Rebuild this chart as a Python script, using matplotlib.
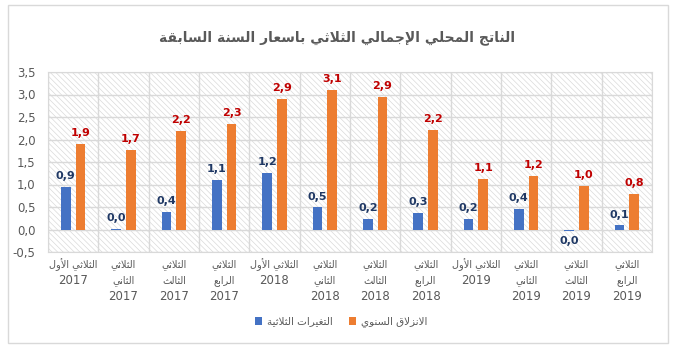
#!/usr/bin/env python3

import numpy as np
import matplotlib.pyplot as plt
from matplotlib.patches import Rectangle

# data
quarters = ['الثلاثي الأول', 'الثلاثي\nالثاني', 'الثلاثي\nالثالث', 'الثلاثي\nالرابع'] * 3
years = ['2017'] * 4 + ['2018'] * 4 + ['2019'] * 4
qoq = [0.94, 0.02, 0.40, 1.10, 1.26, 0.49, 0.23, 0.36, 0.23, 0.45, -0.03, 0.09]
yoy = [1.90, 1.76, 2.20, 2.35, 2.91, 3.10, 2.95, 2.21, 1.12, 1.20, 0.97, 0.80]
qoq_lbl = ['0,9', '0,0', '0,4', '1,1', '1,2', '0,5', '0,2', '0,3', '0,2', '0,4', '0,0', '0,1']
yoy_lbl = ['1,9', '1,7', '2,2', '2,3', '2,9', '3,1', '2,9', '2,2', '1,1', '1,2', '1,0', '0,8']
title = 'الناتج المحلي الإجمالي الثلاثي باسعار السنة السابقة'
names = ['التغيرات الثلاثية', 'الانزلاق السنوي']

# minimal arabic shaping (matplotlib has no bidi / joining support)
AR = {'ء': (0xFE80, 1), 'آ': (0xFE81, 2), 'أ': (0xFE83, 2), 'ؤ': (0xFE85, 2), 'إ': (0xFE87, 2),
      'ئ': (0xFE89, 4), 'ا': (0xFE8D, 2), 'ب': (0xFE8F, 4), 'ة': (0xFE93, 2), 'ت': (0xFE95, 4),
      'ث': (0xFE99, 4), 'ج': (0xFE9D, 4), 'ح': (0xFEA1, 4), 'خ': (0xFEA5, 4), 'د': (0xFEA9, 2),
      'ذ': (0xFEAB, 2), 'ر': (0xFEAD, 2), 'ز': (0xFEAF, 2), 'س': (0xFEB1, 4), 'ش': (0xFEB5, 4),
      'ص': (0xFEB9, 4), 'ض': (0xFEBD, 4), 'ط': (0xFEC1, 4), 'ظ': (0xFEC5, 4), 'ع': (0xFEC9, 4),
      'غ': (0xFECD, 4), 'ف': (0xFED1, 4), 'ق': (0xFED5, 4), 'ك': (0xFED9, 4), 'ل': (0xFEDD, 4),
      'م': (0xFEE1, 4), 'ن': (0xFEE5, 4), 'ه': (0xFEE9, 4), 'و': (0xFEED, 2), 'ى': (0xFEEF, 2),
      'ي': (0xFEF1, 4)}
LAM_ALEF = {'ا': 0xFEFB, 'أ': 0xFEF7, 'إ': 0xFEF9, 'آ': 0xFEF5}


def shape_line(line):
    toks = []
    i = 0
    while i < len(line):
        c = line[i]
        if c == 'ل' and line[i + 1:i + 2] in LAM_ALEF:
            toks.append((LAM_ALEF[line[i + 1]], 2))
            i += 2
        else:
            toks.append(AR.get(c, c))
            i += 1
    out = []
    for k, t in enumerate(toks):
        if isinstance(t, str):
            out.append(t)
            continue
        base, n = t
        prev = toks[k - 1] if k > 0 else None
        nxt = toks[k + 1] if k + 1 < len(toks) else None
        jp = n > 1 and isinstance(prev, tuple) and prev[1] == 4
        jn = n == 4 and isinstance(nxt, tuple)
        out.append(chr(base + int(jp) + 2 * int(jn)))
    return ''.join(out)[::-1]


def shape(s):
    return '\n'.join(shape_line(l) for l in s.split('\n'))


plt.rcParams['font.family'] = 'DejaVu Sans'
plt.rcParams['hatch.linewidth'] = 0.5

fig = plt.figure(figsize=(6.75, 3.54), dpi=100)
fig.patches.append(Rectangle((8 / 675, 1 - 343 / 354), 660 / 675, 338 / 354,
                             transform=fig.transFigure, fill=False,
                             edgecolor='#d9d9d9', lw=1))
ax = fig.add_axes([48 / 675, 1 - 252 / 354, 604 / 675, 180 / 354])

x = np.arange(len(qoq))
w = 0.19
off = 0.145
ax.bar(x - off, qoq, w, color='#4472c4', zorder=3, label=shape(names[0]))
ax.bar(x + off, yoy, w, color='#ed7d31', zorder=3, label=shape(names[1]))

for xi, v, t in zip(x, qoq, qoq_lbl):
    if v < 0:
        ax.text(xi - off, v - 0.12, t, ha='center', va='top', fontsize=8,
                fontweight='bold', color='#1f3864', zorder=4)
    else:
        ax.text(xi - off, v + 0.13, t, ha='center', va='bottom', fontsize=8,
                fontweight='bold', color='#1f3864', zorder=4)
for xi, v, t in zip(x, yoy, yoy_lbl):
    ax.text(xi + off, v + 0.13, t, ha='center', va='bottom', fontsize=8,
            fontweight='bold', color='#c00000', zorder=4)

# hatched plot area
ax.add_patch(Rectangle((0, 0), 1, 1, transform=ax.transAxes, facecolor='white',
                       edgecolor='#dadada', hatch='\\\\\\\\\\\\', lw=0, zorder=0))

ax.set_xlim(-0.5, len(qoq) - 0.5)
ax.set_ylim(-0.5, 3.5)
ax.set_yticks(np.arange(-0.5, 3.51, 0.5))
ax.set_yticklabels([f'{v:.1f}'.replace('.', ',') for v in np.arange(-0.5, 3.51, 0.5)])
ax.set_xticks(x)
ax.set_xticklabels([])
ax.set_xticks(np.arange(-0.5, len(qoq), 1), minor=True)
ax.tick_params(axis='both', which='both', length=0, colors='#595959')
ax.tick_params(axis='y', labelsize=8.5, pad=9)
ax.grid(axis='y', color='#d9d9d9', lw=1, zorder=1)
ax.grid(axis='x', which='minor', color='#d9d9d9', lw=1, zorder=1)
for s in ax.spines.values():
    s.set_color('#d9d9d9')

# category labels: arabic lines small, year a bit larger
line_y = [265, 280.5, 296]
for xi, q, yr in zip(x, quarters, years):
    lines = shape(q).split('\n')
    for j, ln in enumerate(lines):
        ax.text(xi, -(line_y[j] - 252) / 180, ln, transform=ax.get_xaxis_transform(),
                ha='center', va='center', fontsize=7, color='#595959')
    ax.text(xi, -(line_y[len(lines)] - 252) / 180, yr, transform=ax.get_xaxis_transform(),
            ha='center', va='center', fontsize=8.5, color='#595959')

fig.text(0.5, 1 - 38 / 354, shape(title), ha='center', va='center',
         fontsize=10, fontweight='bold', color='#595959')
fig.legend(loc='center', bbox_to_anchor=(341 / 675, 1 - 322 / 354), ncol=2,
           frameon=False, fontsize=7.5, handlelength=0.7, handleheight=0.7,
           columnspacing=1.5, handletextpad=0.5, labelcolor='#595959')

fig.savefig('out.png', dpi=100)
